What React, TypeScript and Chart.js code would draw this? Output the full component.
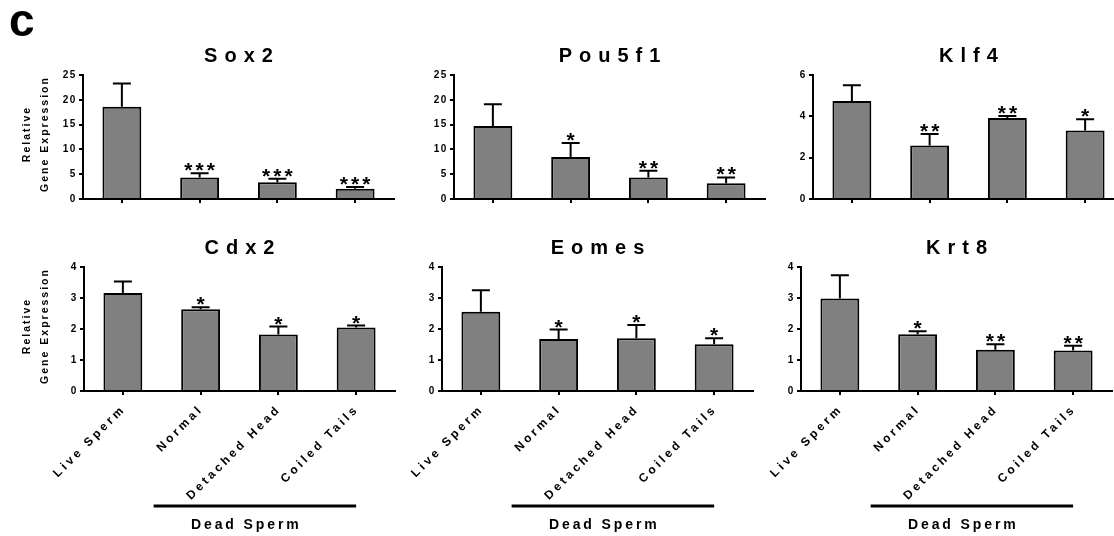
import React, { useEffect, useRef } from "react";
import { Chart, registerables } from "chart.js";

Chart.register(...registerables);

// ---------- DATA ----------
const categories = ["Live Sperm", "Normal", "Detached Head", "Coiled Tails"];
const groupLabel = "Dead Sperm";
const yTitleLines = ["Relative", "Gene Expression"];

const sox2Mean = [18.6, 4.35, 3.4, 2.05];
const sox2Sem = [4.7, 0.85, 0.7, 0.35];
const sox2Sig = ["", "***", "***", "***"];

const pou5f1Mean = [14.7, 8.45, 4.35, 3.2];
const pou5f1Sem = [4.4, 2.85, 1.35, 1.15];
const pou5f1Sig = ["", "*", "**", "**"];

const klf4Mean = [4.74, 2.59, 3.92, 3.31];
const klf4Sem = [0.76, 0.56, 0.1, 0.55];
const klf4Sig = ["", "**", "**", "*"];

const cdx2Mean = [3.16, 2.64, 1.82, 2.05];
const cdx2Sem = [0.37, 0.06, 0.26, 0.06];
const cdx2Sig = ["", "*", "*", "*"];

const eomesMean = [2.56, 1.68, 1.7, 1.51];
const eomesSem = [0.69, 0.3, 0.43, 0.19];
const eomesSig = ["", "*", "*", "*"];

const krt8Mean = [2.98, 1.83, 1.33, 1.31];
const krt8Sem = [0.75, 0.1, 0.18, 0.15];
const krt8Sig = ["", "*", "**", "**"];

const axisMax = [25, 25, 6, 4, 4, 4];
const axisStep = [5, 5, 2, 1, 1, 1];

// ---------- STYLE / LAYOUT ----------
const FONT = "'Liberation Sans', Arial, Helvetica, sans-serif";
const YW = 82; // y-scale box width
const PLOT_W = 311;
const PAD_R = 6;

type Cfg = {
  title: string;
  mean: number[];
  sem: number[];
  sig: string[];
  max: number;
  step: number;
  x0: number;
  row: 0 | 1;
  yLabel: boolean;
  letter: boolean;
};

const panels: Cfg[] = [
  { title: "Sox2", mean: sox2Mean, sem: sox2Sem, sig: sox2Sig, max: axisMax[0], step: axisStep[0], x0: 83, row: 0, yLabel: true, letter: true },
  { title: "Pou5f1", mean: pou5f1Mean, sem: pou5f1Sem, sig: pou5f1Sig, max: axisMax[1], step: axisStep[1], x0: 454, row: 0, yLabel: false, letter: false },
  { title: "Klf4", mean: klf4Mean, sem: klf4Sem, sig: klf4Sig, max: axisMax[2], step: axisStep[2], x0: 813, row: 0, yLabel: false, letter: false },
  { title: "Cdx2", mean: cdx2Mean, sem: cdx2Sem, sig: cdx2Sig, max: axisMax[3], step: axisStep[3], x0: 84, row: 1, yLabel: true, letter: false },
  { title: "Eomes", mean: eomesMean, sem: eomesSem, sig: eomesSig, max: axisMax[4], step: axisStep[4], x0: 442, row: 1, yLabel: false, letter: false },
  { title: "Krt8", mean: krt8Mean, sem: krt8Sem, sig: krt8Sig, max: axisMax[5], step: axisStep[5], x0: 801, row: 1, yLabel: false, letter: false },
];

const ROWS = [
  { top: 0, padTop: 75, h: 225, xh: 26 },
  { top: 212, padTop: 55, h: 324, xh: 145 },
];

function drawSpaced(ctx: CanvasRenderingContext2D, text: string, cx: number, y: number, ls: number) {
  ctx.letterSpacing = ls + "px";
  ctx.textAlign = "left";
  const w = ctx.measureText(text).width;
  ctx.fillText(text, cx - (w - ls) / 2, y);
}

function makePlugin(cfg: Cfg, canvasLeft: number, canvasTop: number) {
  return {
    id: "panelDeco",
    beforeDraw(chart: any) {
      chart.ctx.letterSpacing = "1.6px";
    },
    afterDatasetsDraw(chart: any) {
      const ctx: CanvasRenderingContext2D = chart.ctx;
      const xs = chart.scales.x;
      const ys = chart.scales.y;
      ctx.save();
      ctx.strokeStyle = "#000";
      ctx.fillStyle = "#000";
      ctx.lineWidth = 2;
      cfg.mean.forEach((m, i) => {
        const cx = xs.getPixelForValue(i);
        const yb = ys.getPixelForValue(m);
        const yt = ys.getPixelForValue(m + cfg.sem[i]);
        ctx.beginPath();
        ctx.moveTo(cx, yb);
        ctx.lineTo(cx, yt);
        ctx.moveTo(cx - 9, yt);
        ctx.lineTo(cx + 9, yt);
        ctx.stroke();
        const s = cfg.sig[i];
        if (s) {
          ctx.font = `bold 21px ${FONT}`;
          ctx.letterSpacing = "3px";
          ctx.textBaseline = "alphabetic";
          const mt = ctx.measureText("*");
          const desc = mt.actualBoundingBoxDescent;
          const bottom = yt - 2;
          drawSpaced(ctx, s, cx, bottom - desc, 3);
        }
      });
      ctx.restore();
      ctx.letterSpacing = "3.2px";
    },
    afterDraw(chart: any) {
      const ctx: CanvasRenderingContext2D = chart.ctx;
      const area = chart.chartArea;
      const xs = chart.scales.x;
      ctx.save();
      ctx.fillStyle = "#000";
      ctx.strokeStyle = "#000";
      // title
      ctx.font = `bold 20px ${FONT}`;
      ctx.textBaseline = "middle";
      drawSpaced(ctx, cfg.title, (area.left + area.right) / 2, area.top - 18.5, 7);
      // y title
      if (cfg.yLabel) {
        const cy = (area.top + area.bottom) / 2 - 2;
        ctx.font = `bold 10.5px ${FONT}`;
        ctx.textBaseline = "middle";
        const xsPos = [27.5, 45];
        yTitleLines.forEach((t, k) => {
          ctx.save();
          ctx.translate(xsPos[k] - canvasLeft, cy);
          ctx.rotate(-Math.PI / 2);
          drawSpaced(ctx, t, 0, 0, 2);
          ctx.restore();
        });
      }
      // group bar
      if (cfg.row === 1) {
        const t1 = xs.getPixelForValue(1);
        const t3 = xs.getPixelForValue(3);
        const x1 = t1 - 47;
        const x2 = t3;
        const ly = 506 - canvasTop;
        ctx.lineWidth = 3;
        ctx.beginPath();
        ctx.moveTo(x1, ly);
        ctx.lineTo(x2, ly);
        ctx.stroke();
        ctx.font = `bold 14px ${FONT}`;
        ctx.textBaseline = "alphabetic";
        drawSpaced(ctx, groupLabel, (x1 + x2) / 2 - 10, 529 - canvasTop, 2.9);
      }
      if (cfg.letter) {
        ctx.font = `bold 46px ${FONT}`;
        ctx.textBaseline = "alphabetic";
        ctx.letterSpacing = "0px";
        ctx.textAlign = "left";
        ctx.fillText("c", 9 - canvasLeft, 36 - canvasTop);
      }
      ctx.restore();
      ctx.letterSpacing = "0px";
    },
  };
}

function Panel({ cfg }: { cfg: Cfg }) {
  const ref = useRef<HTMLCanvasElement>(null);
  const row = ROWS[cfg.row];
  const left = cfg.x0 - YW;
  const w = YW + PLOT_W + PAD_R;
  useEffect(() => {
    const canvas = ref.current!;
    const chart = new Chart(canvas, {
      type: "bar",
      data: {
        labels: categories,
        datasets: [
          {
            data: cfg.mean,
            backgroundColor: "#808080",
            borderColor: "#000",
            borderWidth: 2,
            barPercentage: 0.5,
            categoryPercentage: 1,
          },
        ],
      },
      options: {
        responsive: false,
        animation: false,
        events: [],
        layout: { padding: { left: 0, right: PAD_R, top: row.padTop, bottom: 0 } },
        plugins: {
          legend: { display: false },
          tooltip: { enabled: false },
          title: { display: false },
        },
        scales: {
          x: {
            type: "category",
            offset: true,
            grid: {
              display: true,
              offset: false,
              drawOnChartArea: false,
              drawTicks: true,
              tickLength: 4,
              tickWidth: 2,
              tickColor: "#000",
              color: "#000",
              lineWidth: 2,
            },
            border: { display: true, color: "#000", width: 2, z: 1 },
            ticks: {
              display: cfg.row === 1,
              autoSkip: false,
              minRotation: 45,
              maxRotation: 45,
              padding: 7,
              labelOffset: 1,
              color: "#000",
              font: { family: FONT, size: 12, weight: "bold" },
              z: 1,
            },
            afterFit: (s: any) => {
              s.height = row.xh;
            },
          },
          y: {
            min: 0,
            max: cfg.max,
            ticks: {
              stepSize: cfg.step,
              padding: 2,
              color: "#000",
              font: { family: FONT, size: 10, weight: "bold" },
            },
            grid: {
              drawOnChartArea: false,
              drawTicks: true,
              tickLength: 4,
              tickWidth: 2,
              tickColor: "#000",
              color: "#000",
              lineWidth: 2,
            },
            border: { display: true, color: "#000", width: 2 },
            afterFit: (s: any) => {
              s.width = YW;
            },
          },
        },
      } as any,
      plugins: [makePlugin(cfg, left, row.top) as any],
    });
    return () => chart.destroy();
  }, []);
  return (
    <canvas
      ref={ref}
      width={w}
      height={row.h}
      style={{ position: "absolute", left, top: row.top, width: w, height: row.h }}
    />
  );
}

export default function App() {
  return (
    <div
      style={{
        position: "absolute",
        left: 0,
        top: 0,
        width: 1114,
        height: 536,
        overflow: "hidden",
        background: "#fff",
      }}
    >
      {panels.map((p) => (
        <Panel key={p.title} cfg={p} />
      ))}
    </div>
  );
}
